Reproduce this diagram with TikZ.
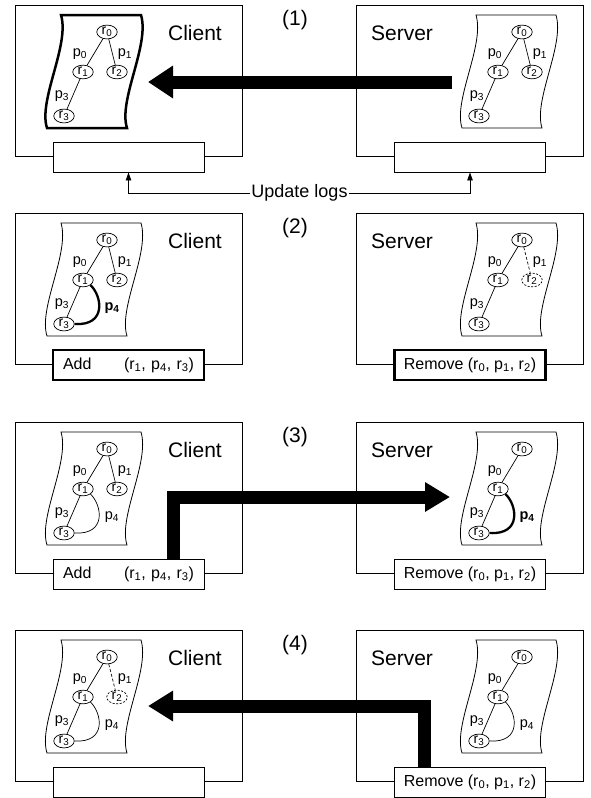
\documentclass[tikz,border=0pt]{standalone}
\usepackage{fontspec}
\setmainfont{Liberation Sans}
\usetikzlibrary{arrows.meta,shapes.geometric,calc}

\tikzset{
 panelbox/.style={draw, line width=1pt, minimum width=227pt, minimum height=151pt, inner sep=0pt},
 logbox/.style={draw, fill=white, line width=0.9pt, minimum width=151pt, minimum height=30pt, inner sep=0pt, font=\fontsize{16}{18}\selectfont},
 logthick/.style={logbox, line width=2.4pt},
 addtext/.style={text width=131pt, inner xsep=10pt},
 rnode/.style={draw, ellipse, minimum width=20.5pt, minimum height=13pt, inner sep=0pt, line width=0.7pt, font=\fontsize{14}{15}\selectfont, fill=white},
 rgone/.style={rnode, dash pattern=on 2pt off 1.6pt},
 plabel/.style={font=\fontsize{14.5}{16}\selectfont, inner sep=0pt},
 pbold/.style={plabel, font=\fontsize{14.5}{16}\selectfont\bfseries},
 edge/.style={line width=0.7pt},
 goneedge/.style={edge, dash pattern=on 3pt off 2pt},
 newedge/.style={line width=2.3pt},
 title/.style={font=\fontsize{21}{24}\selectfont, inner sep=0pt},
 bigarrow/.style={line width=13pt, line join=miter, -{Triangle[length=25pt,width=#1]}},
 paperline/.style={line width=0.8pt},
 paperthick/.style={line width=2.5pt},
 smallarrow/.style={line width=0.8pt, -{Triangle[length=8pt,width=5.5pt]}},
}

% #1 prefix, #2 dx, #3 dy, #4 r2 mode (0 none, 1 solid, 2 dashed), #5 p4 mode (0 none, 1 normal, 2 bold), #6 paper style
\newcommand\mytree[6]{%
\begin{scope}[shift={(#2,#3)}]
 \draw[#6] (61,15) -- (141,15) .. controls (150,45) and (118,100) .. (127,128) -- (47,128) .. controls (38,100) and (70,45) .. (61,15) -- cycle;
 \node[rnode] (#1r0) at (107,32) {r\textsubscript{0}};
 \node[rnode] (#1r1) at (83,72) {r\textsubscript{1}};
 \node[rnode] (#1r3) at (64,116) {r\textsubscript{3}};
 \node[plabel] (#1p0) at (80,54) {p\textsubscript{0}};
 \node[plabel] (#1p3) at (62,96) {p\textsubscript{3}};
 \draw[edge] (#1r0) -- (#1r1);
 \draw[edge] (#1r1) -- (#1r3);
 \ifcase#4\or
   \node[rnode] (#1r2) at (117,72) {r\textsubscript{2}};
   \node[plabel] (#1p1) at (125,54) {p\textsubscript{1}};
   \draw[edge] (#1r0) -- (#1r2);
 \or
   \node[rgone] (#1r2) at (117,72) {r\textsubscript{2}};
   \node[plabel] (#1p1) at (125,54) {p\textsubscript{1}};
   \draw[goneedge] (#1r0) -- (#1r2);
 \fi
 \ifcase#5\or
   \draw[edge] (#1r1.south east) .. controls (102,88) and (107,118) .. (#1r3.east);
   \node[plabel] (#1p4) at (112,100) {p\textsubscript{4}};
 \or
   \draw[newedge] (#1r1.south east) .. controls (102,88) and (107,118) .. (#1r3.east);
   \node[pbold] (#1p4) at (112,100) {p\textsubscript{4}};
 \fi
\end{scope}}

\newcommand\addtxt{Add\hfill(r\textsubscript{1}, p\textsubscript{4}, r\textsubscript{3})}
\newcommand\remtxt{Remove (r\textsubscript{0}, p\textsubscript{1}, r\textsubscript{2})}

\begin{document}
\begin{tikzpicture}[x=1pt,y=-1pt]
\useasboundingbox (0,0) rectangle (590,798);

% ---------- Panel 1 ----------
\node[panelbox] (c1box) at (128.5,80.5) {};
\node[panelbox] (s1box) at (469.5,80.5) {};
\node[logbox] (c1log) at (128.5,157) {};
\node[logbox] (s1log) at (470,157) {};
\node[title] (c1t) at (195,33) {Client};
\node[title] (s1t) at (402,33) {Server};
\node[title] (n1) at (295,20) {(1)};
\mytree{c1}{0}{0}{1}{0}{paperthick}
\mytree{s1}{415}{0}{1}{0}{paperline}
\coordinate (a1s) at (452,82);
\coordinate (a1t) at (148,82);
\draw[bigarrow=31pt] (a1s) -- (a1t);
\node[font=\fontsize{18}{20}\selectfont, inner xsep=1pt, inner ysep=0pt] (ul) at (299.5,193) {Update logs};
\draw[smallarrow] (ul.west) -| (c1log.south);
\draw[smallarrow] (ul.east) -| (s1log.south);

% ---------- Panel 2 ----------
\node[panelbox] (c2box) at (128.5,288.5) {};
\node[panelbox] (s2box) at (469.5,288.5) {};
\node[logthick, addtext] (c2log) at (128.5,365) {\addtxt};
\node[logthick] (s2log) at (470,365) {\remtxt};
\node[title] (c2t) at (195,241) {Client};
\node[title] (s2t) at (402,241) {Server};
\node[title] (n2) at (295,228) {(2)};
\mytree{c2}{0}{208}{1}{2}{paperline}
\mytree{s2}{415}{208}{2}{0}{paperline}

% ---------- Panel 3 ----------
\node[panelbox] (c3box) at (128.5,497.5) {};
\node[panelbox] (s3box) at (469.5,497.5) {};
\node[logbox, addtext] (c3log) at (128.5,574) {\addtxt};
\node[logbox] (s3log) at (470,574) {\remtxt};
\node[title] (c3t) at (195,450) {Client};
\node[title] (s3t) at (402,450) {Server};
\node[title] (n3) at (295,437) {(3)};
\mytree{c3}{0}{417}{1}{1}{paperline}
\mytree{s3}{415}{417}{0}{2}{paperline}
\coordinate (a3s) at ($(c3log.north)+(44.5,0)$);
\coordinate (a3t) at (450,497);
\draw[bigarrow=28pt] (a3s) |- (a3t);

% ---------- Panel 4 ----------
\node[panelbox] (c4box) at (128.5,705.5) {};
\node[panelbox] (s4box) at (469.5,705.5) {};
\node[logbox] (c4log) at (128.5,782) {};
\node[logbox] (s4log) at (470,782) {\remtxt};
\node[title] (c4t) at (195,658) {Client};
\node[title] (s4t) at (402,658) {Server};
\node[title] (n4) at (295,645) {(4)};
\mytree{c4}{0}{625}{2}{1}{paperline}
\mytree{s4}{415}{625}{0}{1}{paperline}
\coordinate (a4s) at ($(s4log.north)+(-46,0)$);
\coordinate (a4t) at (148,706);
\draw[bigarrow=29pt] (a4s) |- (a4t);
\end{tikzpicture}
\end{document}
